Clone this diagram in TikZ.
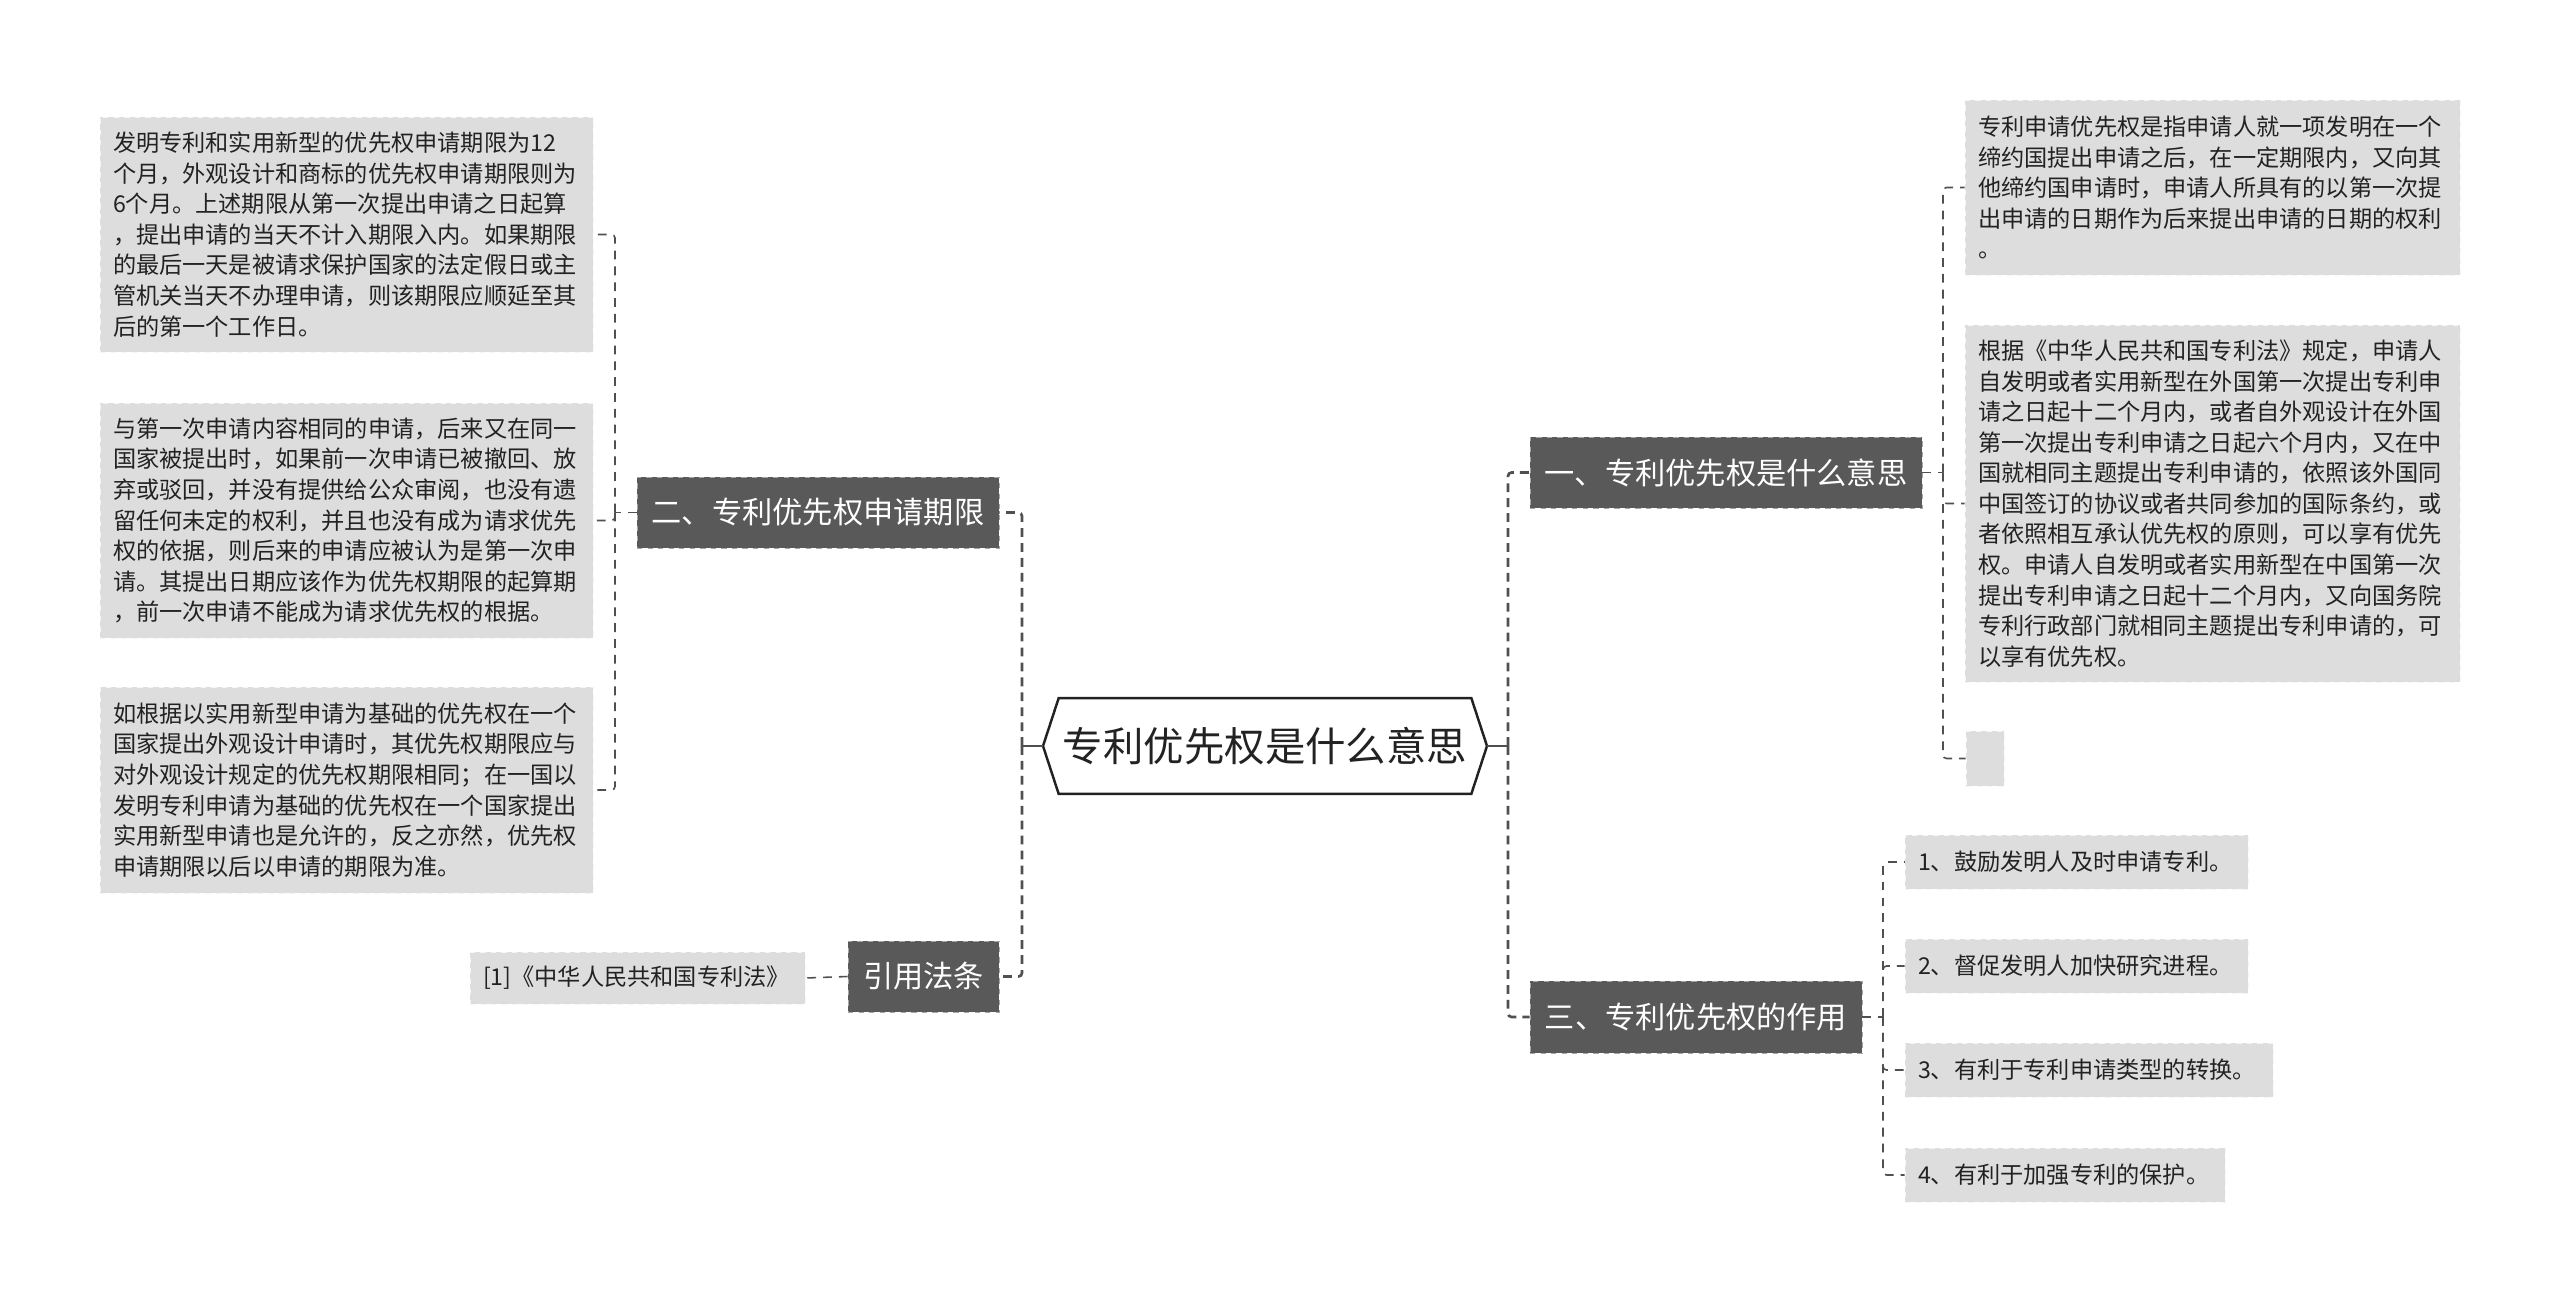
\documentclass[tikz,border=0pt]{standalone}
\usepackage{fontspec}
\setmainfont{Noto Sans CJK SC}
\usepackage{tikz}
\usetikzlibrary{positioning, calc}
\definecolor{branchgray}{RGB}{89, 89, 89}
\definecolor{leafgray}{RGB}{221, 221, 221}
\definecolor{linkgray}{RGB}{80, 80, 80}
\definecolor{inkblack}{RGB}{34, 34, 34}

\begin{document}
\begin{tikzpicture}[
    root/.style={rectangle, minimum width=8.24cm, minimum height=1.9cm, inner sep=0pt, text=inkblack, font=\fontsize{23}{28}\selectfont},
    hexline/.style={draw=inkblack, line width=1.4pt, fill=white, line join=miter},
    branch/.style={rectangle, draw=gray!70, dashed, fill=branchgray, text=white, minimum height=1.42cm, inner sep=0pt, font=\fontsize{17.2}{20}\selectfont},
    leaf/.style={rectangle, draw=gray!8, dashed, fill=leafgray, text=inkblack, align=left, inner xsep=0.26cm, inner ysep=0pt, font=\fontsize{13.2}{17.4}\selectfont},
    link/.style={draw=linkgray, line width=1.5pt, dash pattern=on 5pt off 3.5pt, rounded corners=2pt},
    twig/.style={draw=linkgray, line width=0.9pt, dash pattern=on 5pt off 4pt, rounded corners=2pt},
    stub/.style={draw=linkgray, line width=1.5pt},
]
\useasboundingbox[fill=white] (0,0) rectangle (51.2,-26.04);

% Centre
\coordinate (rtip) at (29.74,-14.92);
\coordinate (ltip) at (20.86,-14.92);
\node[root] (root) at (25.3,-14.92) {};
\draw[hexline] (root.north west) -- (root.north east) -- (rtip) -- (root.south east) -- (root.south west) -- (ltip) -- cycle;
\node[root] at (root.center) {专利优先权是什么意思};

% Main branches
\node[branch, minimum width=7.84cm] (b1) at (34.52,-9.45) {一、专利优先权是什么意思};
\node[branch, minimum width=7.24cm] (b2) at (16.36,-10.25) {二、专利优先权申请期限};
\node[branch, minimum width=6.64cm, minimum height=1.44cm] (b3) at (33.92,-20.34) {三、专利优先权的作用};
\node[branch, minimum width=3.02cm] (b4) at (18.47,-19.53) {引用法条};

% Leaves of branch one
\node[leaf, text width=9.38cm, minimum height=3.5cm] (la) at (44.25,-3.75) {专利申请优先权是指申请人就一项发明在一个\\缔约国提出申请之后，在一定期限内，又向其\\他缔约国申请时，申请人所具有的以第一次提\\出申请的日期作为后来提出申请的日期的权利\\。};
\node[leaf, text width=9.38cm, minimum height=7.14cm] (lb) at (44.25,-10.07) {根据《中华人民共和国专利法》规定，申请人\\自发明或者实用新型在外国第一次提出专利申\\请之日起十二个月内，或者自外观设计在外国\\第一次提出专利申请之日起六个月内，又在中\\国就相同主题提出专利申请的，依照该外国同\\中国签订的协议或者共同参加的国际条约，或\\者依照相互承认优先权的原则，可以享有优先\\权。申请人自发明或者实用新型在中国第一次\\提出专利申请之日起十二个月内，又向国务院\\专利行政部门就相同主题提出专利申请的，可\\以享有优先权。};
\node[leaf, minimum width=0.76cm, minimum height=1.1cm] (lc) at (39.7,-15.17) {};

% Leaves of branch two
\node[leaf, text width=9.34cm, minimum height=4.7cm] (l1) at (6.93,-4.69) {发明专利和实用新型的优先权申请期限为12\\个月，外观设计和商标的优先权申请期限则为\\6个月。上述期限从第一次提出申请之日起算\\，提出申请的当天不计入期限入内。如果期限\\的最后一天是被请求保护国家的法定假日或主\\管机关当天不办理申请，则该期限应顺延至其\\后的第一个工作日。};
\node[leaf, text width=9.34cm, minimum height=4.7cm] (l2) at (6.93,-10.41) {与第一次申请内容相同的申请，后来又在同一\\国家被提出时，如果前一次申请已被撤回、放\\弃或驳回，并没有提供给公众审阅，也没有遗\\留任何未定的权利，并且也没有成为请求优先\\权的依据，则后来的申请应被认为是第一次申\\请。其提出日期应该作为优先权期限的起算期\\，前一次申请不能成为请求优先权的根据。};
\node[leaf, text width=9.34cm, minimum height=4.12cm] (l3) at (6.93,-15.8) {如根据以实用新型申请为基础的优先权在一个\\国家提出外观设计申请时，其优先权期限应与\\对外观设计规定的优先权期限相同；在一国以\\发明专利申请为基础的优先权在一个国家提出\\实用新型申请也是允许的，反之亦然，优先权\\申请期限以后以申请的期限为准。};

% Leaves of branch three
\node[leaf, text width=6.34cm, minimum height=1.08cm] (p1) at (41.53,-17.24) {1、鼓励发明人及时申请专利。};
\node[leaf, text width=6.34cm, minimum height=1.08cm] (p2) at (41.53,-19.32) {2、督促发明人加快研究进程。};
\node[leaf, text width=6.84cm, minimum height=1.08cm] (p3) at (41.78,-21.4) {3、有利于专利申请类型的转换。};
\node[leaf, text width=5.88cm, minimum height=1.08cm] (p4) at (41.3,-23.5) {4、有利于加强专利的保护。};

% Cited law
\node[leaf, text width=6.18cm, minimum height=1.04cm] (cite) at (12.75,-19.56) {[1]《中华人民共和国专利法》};

% Root links
\coordinate (rjoin) at (30.16,-14.92);
\coordinate (ljoin) at (20.44,-14.92);
\draw[stub] (rtip) -- (rjoin);
\draw[stub] (ltip) -- (ljoin);
\draw[link] (rjoin) |- (b1.west);
\draw[link] (rjoin) |- (b3.west);
\draw[link] (ljoin) |- (b2.east);
\draw[link] (ljoin) |- (b4.east);

% Leaf links
\coordinate (j1) at (38.86,-9.45);
\coordinate (j2) at (12.3,-10.25);
\coordinate (j3) at (37.66,-20.34);
\draw[twig] (b1.east) -- (j1);
\foreach \n in {la,lb,lc} \draw[twig] (j1) |- (\n.west);
\draw[twig] (b2.west) -- (j2);
\foreach \n in {l1,l2,l3} \draw[twig] (j2) |- (\n.east);
\draw[twig] (b3.east) -- (j3);
\foreach \n in {p1,p2,p3,p4} \draw[twig] (j3) |- (\n.west);
\draw[twig] (b4.west) -- (cite.east);

\end{tikzpicture}
\end{document}
